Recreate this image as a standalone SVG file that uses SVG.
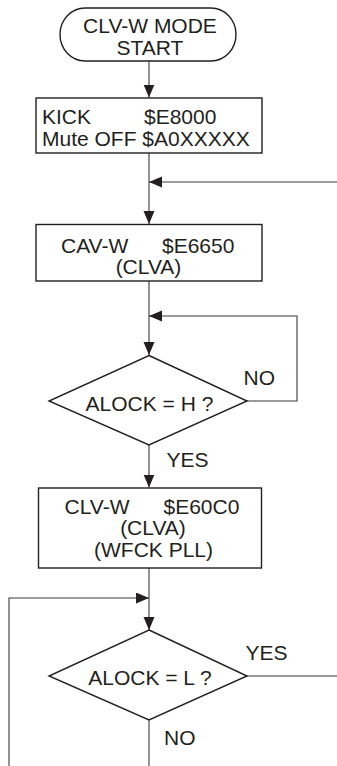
<svg xmlns="http://www.w3.org/2000/svg" width="337" height="766" viewBox="0 0 337 766">
<style>
.shape{fill:#fff;stroke:#231f20;stroke-width:1.4}
.conn{fill:none;stroke:#3a3a3a;stroke-width:1.1}
text{font-family:"Liberation Sans",Arial,sans-serif;font-size:21px;fill:#231f20}
.c{text-anchor:middle}
</style>
<defs>
<marker id="arr" markerUnits="userSpaceOnUse" markerWidth="14" markerHeight="12" refX="13" refY="5.5" orient="auto">
<path d="M0,0 L13,5.5 L0,11 Z" fill="#231f20"/>
</marker>
</defs>
<rect width="337" height="766" fill="#fff"/>
<g id="connectors">
<line class="conn" x1="149" y1="61" x2="149" y2="97.5" marker-end="url(#arr)"/>
<line class="conn" x1="149" y1="153" x2="149" y2="224" marker-end="url(#arr)"/>
<line class="conn" x1="337" y1="182" x2="149" y2="182" marker-end="url(#arr)"/>
<line class="conn" x1="149" y1="281" x2="149" y2="355" marker-end="url(#arr)"/>
<polyline class="conn" points="247,401 297,401 297,316 149,316" marker-end="url(#arr)"/>
<line class="conn" x1="149" y1="445" x2="149" y2="487.5" marker-end="url(#arr)"/>
<line class="conn" x1="149" y1="568" x2="149" y2="630" marker-end="url(#arr)"/>
<polyline class="conn" points="9,766 9,598 149,598" marker-end="url(#arr)"/>
<line class="conn" x1="247" y1="676" x2="337" y2="676"/>
<line class="conn" x1="149" y1="720" x2="149" y2="766"/>
</g>
<g id="start">
<rect class="shape" x="60" y="8" width="176" height="53" rx="25" ry="26.5"/>
<text class="c" x="150" y="33">CLV-W MODE</text>
<text class="c" x="150" y="55">START</text>
</g>
<g id="kick">
<rect class="shape" x="36" y="98" width="226" height="55"/>
<text x="42" y="124">KICK</text>
<text x="144" y="124">$E8000</text>
<text x="42" y="145.5">Mute OFF $A0XXXXX</text>
</g>
<g id="cavw">
<rect class="shape" x="36" y="224.5" width="226" height="56.5"/>
<text x="61" y="253">CAV-W</text>
<text x="162" y="253">$E6650</text>
<text class="c" x="148.5" y="274">(CLVA)</text>
</g>
<g id="alockH">
<polygon class="shape" points="149,355.5 247,401 149,445 49,401"/>
<text class="c" x="149.5" y="410.5">ALOCK = H ?</text>
<text x="243.5" y="385">NO</text>
<text x="166.5" y="466.5">YES</text>
</g>
<g id="clvw">
<rect class="shape" x="38.5" y="488" width="223" height="80"/>
<text x="64.5" y="514">CLV-W</text>
<text x="163.5" y="514">$E60C0</text>
<text class="c" x="153" y="535">(CLVA)</text>
<text class="c" x="153.5" y="556.5">(WFCK PLL)</text>
</g>
<g id="alockL">
<polygon class="shape" points="149,630 247,676 149,720 49,676"/>
<text class="c" x="150" y="685">ALOCK = L ?</text>
<text x="245.5" y="660">YES</text>
<text x="164" y="745">NO</text>
</g>
</svg>
